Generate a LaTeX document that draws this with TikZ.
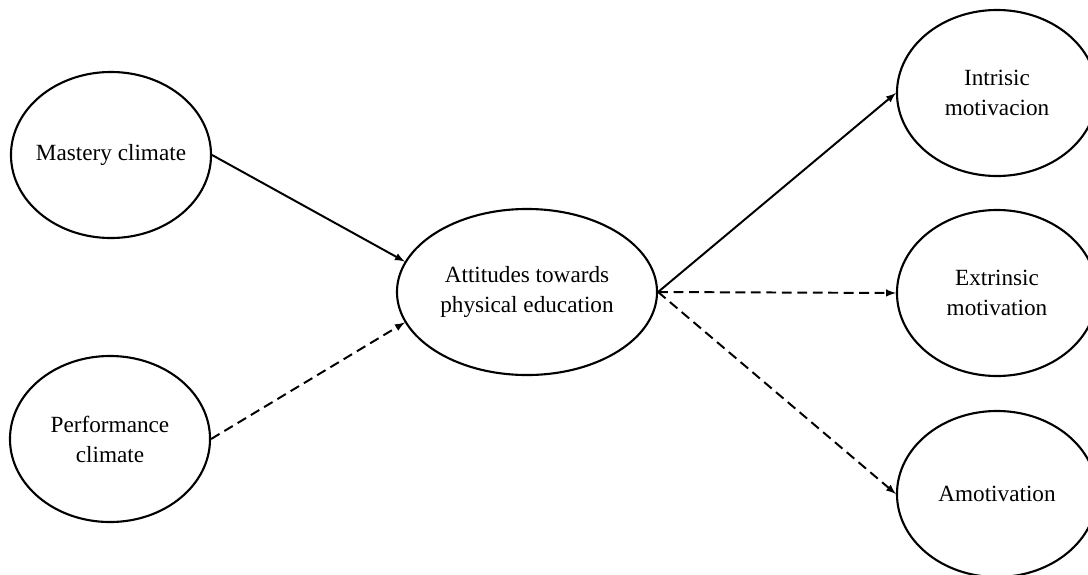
\documentclass[tikz,border=0pt]{standalone}
\usepackage{fontspec}
\setmainfont{Liberation Serif}
\usetikzlibrary{shapes.geometric}

\begin{document}
\begin{tikzpicture}[x=0.025cm,y=-0.025cm,>=latex,
    var/.style={ellipse, draw, line width=1.5pt, minimum width=5cm, minimum height=4.15cm,
      inner sep=0pt, align=center, font=\fontsize{16.5}{21.3}\selectfont},
    path/.style={->, line width=1.4pt},
    dpath/.style={path, dash pattern=on 7pt off 4pt}]
    \useasboundingbox (0,0) rectangle (1088,574);
    \clip (0,0) rectangle (1088,574);

    \node[var, inner xsep=-5pt] (mastery) at (111,155) {Mastery climate};
    \node[var] (perf) at (110,439) {Performance\\climate};
    \node[var, minimum width=6.5cm] (att) at (527,292) {Attitudes towards\\physical education};

    \node[var] (intr) at (997,93) {Intrisic\\motivacion};
    \node[var] (extr) at (997,293) {Extrinsic\\motivation};
    \node[var] (amot) at (997,494) {Amotivation};

    % predictors
    \draw[path] (mastery.east) -- (att.166);
    \draw[dpath] (perf.east) -- (att.194);

    % outcomes
    \draw[path] (att.east) -- (intr.west);
    \draw[dpath] (att.east) -- (extr.west);
    \draw[dpath] (att.east) -- (amot.west);
\end{tikzpicture}
\end{document}
